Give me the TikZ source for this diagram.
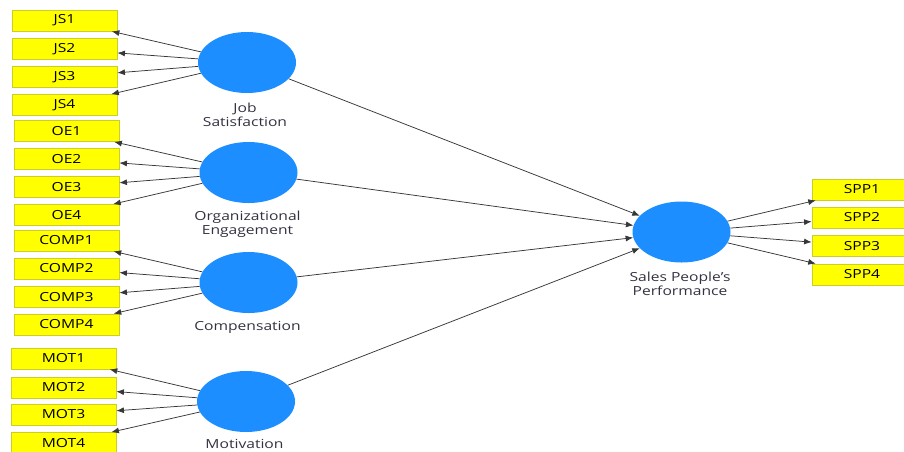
\documentclass[tikz,border=0pt]{standalone}
\usepackage{fontspec}
\setmainfont{Open Sans}[FakeStretch=1.25]
\usetikzlibrary{arrows.meta,shapes.geometric}
\definecolor{boxfill}{RGB}{255,255,0}
\definecolor{boxline}{RGB}{205,205,40}
\definecolor{lvfill}{RGB}{28,142,255}
\definecolor{lbl}{RGB}{50,50,65}
\definecolor{edgecol}{RGB}{55,55,55}
\begin{document}
\begin{tikzpicture}[x=1pt,y=-1pt,
  ind/.style={draw=boxline, line width=0.8pt, fill=boxfill, minimum height=21pt, minimum width=105pt, inner sep=0pt, font=\fontsize{12.5}{14}\selectfont, text=black},
  lv/.style={ellipse, fill=lvfill, minimum width=98pt, minimum height=61pt, inner sep=0pt},
  lvlabel/.style={align=center, text=lbl, font=\fontsize{12.5}{14}\selectfont, inner sep=0pt},
  arr/.style={draw=edgecol, line width=0.75pt, -{Latex[length=7.5pt,width=6pt]}}]
\useasboundingbox (0,0) rectangle (904,451);
\clip (0,0) rectangle (904,451);
% latent variables
\node[lv] (js) at (247,62.5) {};
\node[lv] (oe) at (248.5,172.5) {};
\node[lv] (comp) at (248.5,282.5) {};
\node[lv] (mot) at (246,401.5) {};
\node[lv] (spp) at (681.5,232) {};
% labels
\node[lvlabel] (jsl) at (245,115) {Job\\Satisfaction};
\node[lvlabel] (oel) at (247.5,224.5) {Organizational\\Engagement};
\node[lvlabel] (compl) at (247.5,327) {Compensation};
\node[lvlabel] (motl) at (244.5,444) {Motivation};
\node[lvlabel] (sppl) at (680,283.5) {Sales People’s\\Performance};
% indicators
\node[ind] (js1) at (64.5,20.5) {JS1};
\node[ind] (js2) at (64.5,49) {JS2};
\node[ind] (js3) at (64.5,77) {JS3};
\node[ind] (js4) at (64.5,105) {JS4};
\node[ind] (oe1) at (66.5,131) {OE1};
\node[ind] (oe2) at (66.5,159) {OE2};
\node[ind] (oe3) at (66.5,187) {OE3};
\node[ind] (oe4) at (66.5,215) {OE4};
\node[ind] (comp1) at (66.5,240.5) {COMP1};
\node[ind] (comp2) at (66.5,268.5) {COMP2};
\node[ind] (comp3) at (66.5,297) {COMP3};
\node[ind] (comp4) at (66.5,324.5) {COMP4};
\node[ind] (mot1) at (63.5,358.5) {MOT1};
\node[ind] (mot2) at (63.5,387.5) {MOT2};
\node[ind] (mot3) at (63.5,414.5) {MOT3};
\node[ind] (mot4) at (63.5,443) {MOT4};
\node[ind, minimum width=100pt] (spp1) at (862,189.5) {SPP1};
\node[ind, minimum width=100pt] (spp2) at (862,217.5) {SPP2};
\node[ind, minimum width=100pt] (spp3) at (862,246) {SPP3};
\node[ind, minimum width=100pt] (spp4) at (862,274.5) {SPP4};
% measurement arrows
\foreach \i in {1,2,3,4} {
  \draw[arr] (js) -- (js\i);
  \draw[arr] (oe) -- (oe\i);
  \draw[arr] (comp) -- (comp\i);
  \draw[arr] (mot) -- (mot\i);
  \draw[arr] (spp) -- (spp\i);
}
% structural arrows
\draw[arr] (js) -- (spp);
\draw[arr] (oe) -- (spp);
\draw[arr] (comp) -- (spp);
\draw[arr] (mot) -- (spp);
\end{tikzpicture}
\end{document}
